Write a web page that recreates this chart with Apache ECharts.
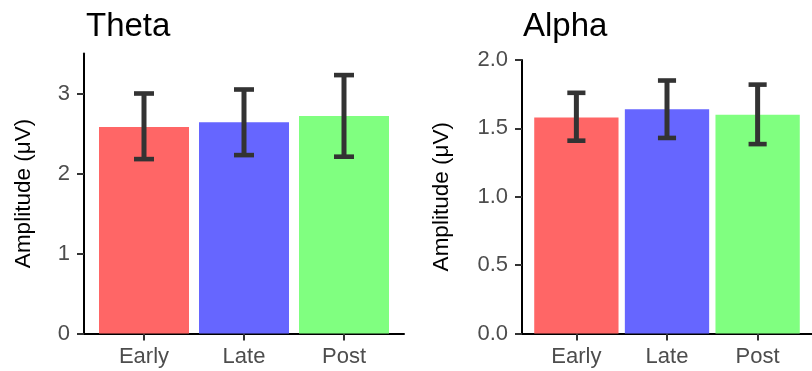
<!DOCTYPE html>
<html>
<head>
<meta charset="utf-8">
<script src="https://cdn.jsdelivr.net/npm/echarts@6/dist/echarts.min.js"></script>
<style>
  html, body { margin: 0; padding: 0; background: #fff; }
  #chart { width: 812px; height: 371px; }
</style>
</head>
<body>
<div id="chart"></div>
<script>
const categories = ['Early', 'Late', 'Post'];
const barColors = ['#FF6666', '#6666FF', '#80FF80'];

const thetaMean = [2.58, 2.64, 2.72];
const thetaLow = [2.18, 2.23, 2.21];
const thetaHigh = [3.00, 3.05, 3.23];
const thetaTicks = [0, 1, 2, 3];

const alphaMean = [1.58, 1.64, 1.60];
const alphaLow = [1.41, 1.43, 1.385];
const alphaHigh = [1.76, 1.85, 1.82];
const alphaTicks = [0, 0.5, 1.0, 1.5, 2.0];

const FONT = 'Liberation Sans';
const positions = categories.map((c, i) => i + 1);

const chart = echarts.init(document.getElementById('chart'));

function xAxisFor(gridIndex) {
  return {
    type: 'value',
    gridIndex: gridIndex,
    min: 0.4,
    max: 3.6,
    splitLine: { show: false },
    axisLine: { show: true, lineStyle: { color: '#000', width: 2 } },
    axisTick: { show: true, length: 7, customValues: positions, lineStyle: { color: '#333', width: 2 } },
    axisLabel: {
      customValues: positions,
      formatter: v => categories[Math.round(v) - 1],
      color: '#4D4D4D', fontFamily: FONT, fontSize: 22, margin: 12
    }
  };
}

function yAxisFor(gridIndex, max, ticks, digits, gap) {
  return {
    type: 'value',
    gridIndex: gridIndex,
    min: 0,
    max: max,
    name: 'Amplitude (\u03bcV)',
    nameLocation: 'middle',
    nameRotate: 90,
    nameGap: gap,
    nameTextStyle: { color: '#000', fontFamily: FONT, fontSize: 22.5 },
    splitLine: { show: false },
    axisLine: { show: true, lineStyle: { color: '#000', width: 2 } },
    axisTick: { show: true, length: 7, customValues: ticks, lineStyle: { color: '#333', width: 2 } },
    axisLabel: {
      customValues: ticks,
      formatter: v => v.toFixed(digits),
      color: '#4D4D4D', fontFamily: FONT, fontSize: 22, margin: 14
    }
  };
}

function barSeries(idx, means, width) {
  return {
    type: 'bar',
    xAxisIndex: idx,
    yAxisIndex: idx,
    barWidth: width,
    data: means.map((m, i) => ({ value: [positions[i], m], itemStyle: { color: barColors[i] } })),
    silent: true
  };
}

function errorSeries(idx, lows, highs) {
  return {
    type: 'custom',
    xAxisIndex: idx,
    yAxisIndex: idx,
    data: lows.map((l, i) => [positions[i], l, highs[i]]),
    renderItem: (params, api) => {
      const x = api.value(0);
      const lo = api.coord([x, api.value(1)]);
      const hi = api.coord([x, api.value(2)]);
      const half = api.size([0.2, 0])[0] / 2;
      const style = { stroke: '#333333', lineWidth: 4.6 };
      return {
        type: 'group',
        children: [
          { type: 'line', shape: { x1: lo[0], y1: lo[1], x2: hi[0], y2: hi[1] }, style: { stroke: '#333333', lineWidth: 5 } },
          { type: 'line', shape: { x1: hi[0] - half, y1: hi[1], x2: hi[0] + half, y2: hi[1] }, style: style },
          { type: 'line', shape: { x1: lo[0] - half, y1: lo[1], x2: lo[0] + half, y2: lo[1] }, style: style }
        ]
      };
    },
    z: 5
  };
}

const option = {
  animation: false,
  title: [
    { text: 'Theta', left: 81, top: 5, textStyle: { fontFamily: FONT, fontSize: 33, fontWeight: 'normal', color: '#000' } },
    { text: 'Alpha', left: 518, top: 5, textStyle: { fontFamily: FONT, fontSize: 33, fontWeight: 'normal', color: '#000' } }
  ],
  grid: [
    { left: 84, top: 53.5, width: 320, height: 280 },
    { left: 522, top: 60, width: 301.4, height: 273.5 }
  ],
  xAxis: [xAxisFor(0), xAxisFor(1)],
  yAxis: [yAxisFor(0, 3.5, thetaTicks, 0, 49), yAxisFor(1, 2.0, alphaTicks, 1, 69)],
  series: [
    barSeries(0, thetaMean, 90),
    errorSeries(0, thetaLow, thetaHigh),
    barSeries(1, alphaMean, 84.3),
    errorSeries(1, alphaLow, alphaHigh)
  ]
};

chart.setOption(option);
</script>
</body>
</html>
